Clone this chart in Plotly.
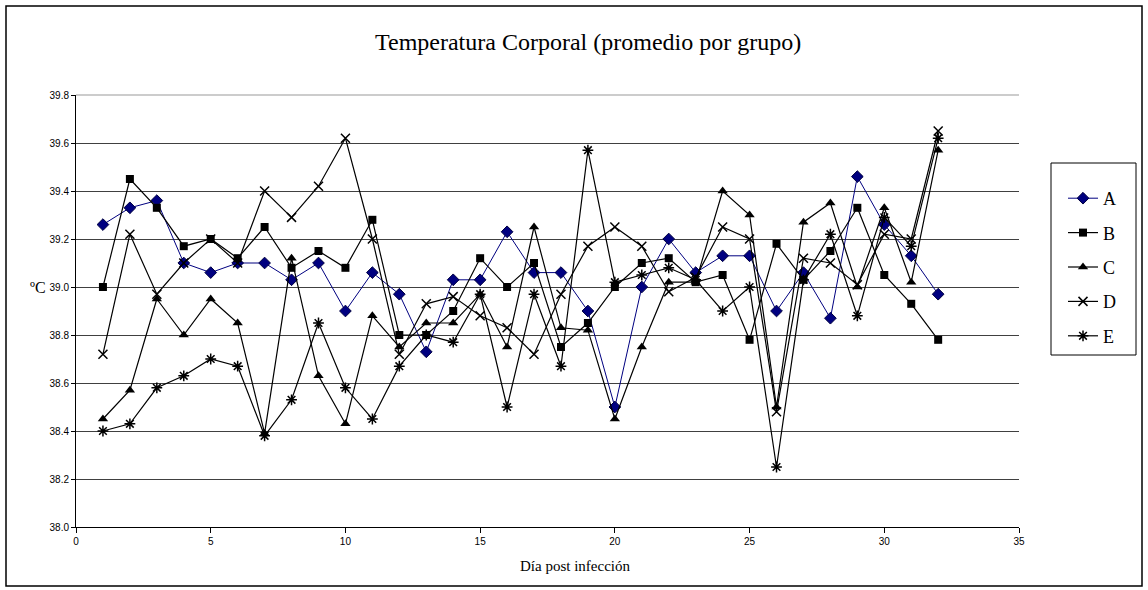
import plotly.graph_objects as go

days = list(range(1, 33))

serie_a = [39.26, 39.33, 39.36, 39.10, 39.06, 39.10, 39.10, 39.03, 39.10, 38.90, 39.06, 38.97,
           38.73, 39.03, 39.03, 39.23, 39.06, 39.06, 38.90, 38.50, 39.00, 39.20, 39.06, 39.13,
           39.13, 38.90, 39.06, 38.87, 39.46, 39.26, 39.13, 38.97]
serie_b = [39.00, 39.45, 39.33, 39.17, 39.20, 39.12, 39.25, 39.08, 39.15, 39.08, 39.28, 38.80,
           38.80, 38.90, 39.12, 39.00, 39.10, 38.75, 38.85, 39.00, 39.10, 39.12, 39.02, 39.05,
           38.78, 39.18, 39.03, 39.15, 39.33, 39.05, 38.93, 38.78]
serie_c = [38.45, 38.57, 38.95, 38.80, 38.95, 38.85, 38.39, 39.12, 38.63, 38.43, 38.88, 38.75,
           38.85, 38.85, 38.97, 38.75, 39.25, 38.83, 38.82, 38.45, 38.75, 39.02, 39.02, 39.40,
           39.30, 38.50, 39.27, 39.35, 39.00, 39.33, 39.02, 39.57]
serie_d = [38.72, 39.22, 38.97, 39.10, 39.20, 39.10, 39.40, 39.29, 39.42, 39.62, 39.20, 38.72,
           38.93, 38.96, 38.88, 38.83, 38.72, 38.97, 39.17, 39.25, 39.17, 38.98, 39.04, 39.25,
           39.20, 38.48, 39.12, 39.10, 39.01, 39.22, 39.20, 39.65]
serie_e = [38.40, 38.43, 38.58, 38.63, 38.70, 38.67, 38.38, 38.53, 38.85, 38.58, 38.45, 38.67,
           38.80, 38.77, 38.97, 38.50, 38.97, 38.67, 39.57, 39.02, 39.05, 39.08, 39.03, 38.90,
           39.00, 38.25, 39.03, 39.22, 38.88, 39.29, 39.17, 39.62]

names = ["A", "B", "C", "D", "E"]
values = [serie_a, serie_b, serie_c, serie_d, serie_e]

title_text = "Temperatura Corporal (promedio por grupo)"
x_title = "Día post infección"
y_title = "ºC"

styles = {
    "A": dict(line=dict(color="#000080", width=1),
              marker=dict(symbol="diamond", size=9, color="#000080",
                          line=dict(color="#000040", width=1))),
    "B": dict(line=dict(color="black", width=1.2),
              marker=dict(symbol="square", size=8, color="black")),
    "C": dict(line=dict(color="black", width=1.2),
              marker=dict(symbol="triangle-up", size=9, color="black")),
    "D": dict(line=dict(color="black", width=1.2),
              marker=dict(symbol="x-thin-open", size=9, color="black",
                          line=dict(color="black", width=1.5))),
    "E": dict(line=dict(color="black", width=1.2),
              marker=dict(symbol="asterisk-open", size=9, color="black",
                          line=dict(color="black", width=1.5))),
}

fig = go.Figure()
for n, v in zip(names, values):
    fig.add_trace(go.Scatter(x=days, y=v, name=n, mode="lines+markers",
                             legendgroup=n, **styles[n]))

W, H = 1148, 590
L, R, T, B = 76, 129, 95, 63
pw, ph = W - L - R, H - T - B

def px(xp):
    return (xp - L) / pw

def py(yp):
    return (H - B - yp) / ph

fig.update_layout(
    width=W, height=H, autosize=False,
    margin=dict(l=L, r=R, t=T, b=B),
    paper_bgcolor="white", plot_bgcolor="white",
    showlegend=True,
    legend=dict(x=px(1063), y=py(180), xanchor="left", yanchor="top",
                borderwidth=0, bgcolor="rgba(0,0,0,0)",
                font=dict(family="Liberation Serif", size=18, color="black"),
                tracegroupgap=8, itemwidth=30),
    xaxis=dict(range=[0, 35], dtick=5, tick0=0, showgrid=False, zeroline=False,
               showline=True, linecolor="black", linewidth=1,
               ticks="outside", ticklen=5, tickcolor="black",
               tickfont=dict(family="Liberation Sans", size=10, color="black")),
    yaxis=dict(range=[38, 39.8], dtick=0.2, tick0=38, tickformat=".1f",
               showgrid=True, gridcolor="#404040", gridwidth=1, zeroline=False,
               showline=True, linecolor="black", linewidth=1,
               ticks="outside", ticklen=4, tickcolor="black",
               tickfont=dict(family="Liberation Sans", size=10, color="black")),
    annotations=[
        dict(text=title_text, xref="paper", yref="paper", x=px(588), y=py(42),
             xanchor="center", yanchor="middle", showarrow=False,
             font=dict(family="Liberation Serif", size=24, color="black")),
        dict(text=x_title, xref="paper", yref="paper", x=px(575), y=py(566),
             xanchor="center", yanchor="middle", showarrow=False,
             font=dict(family="Liberation Serif", size=15, color="black")),
        dict(text=y_title, xref="paper", yref="paper", x=px(38), y=py(287),
             xanchor="center", yanchor="middle", showarrow=False,
             font=dict(family="Liberation Serif", size=16, color="black")),
    ],
    shapes=[
        dict(type="line", xref="paper", yref="paper", x0=0, x1=1, y0=1, y1=1,
             line=dict(color="#cccccc", width=2), layer="above"),
        dict(type="rect", xref="paper", yref="paper",
             x0=px(1051), x1=px(1136), y0=py(355), y1=py(163),
             line=dict(color="black", width=1), fillcolor="white", layer="below"),
        dict(type="rect", xref="paper", yref="paper",
             x0=px(6), x1=px(1142), y0=py(586), y1=py(6),
             line=dict(color="black", width=1.5), layer="above"),
    ],
)

fig.write_html("out.html")
